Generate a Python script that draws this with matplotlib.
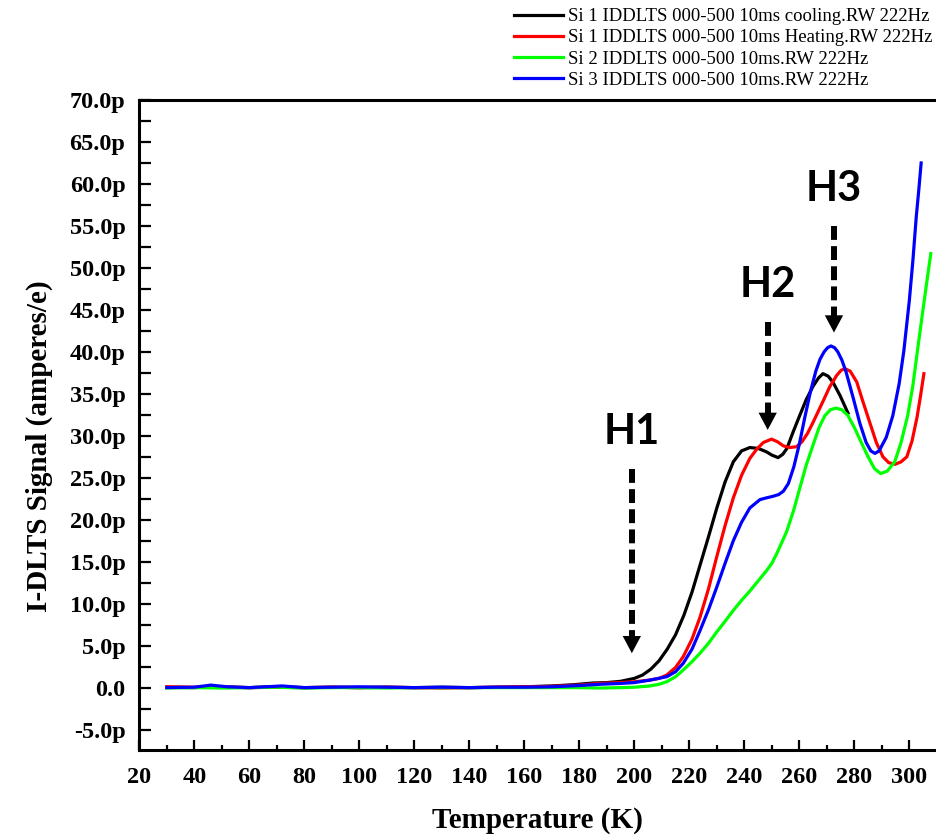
import numpy as np
import matplotlib
matplotlib.use("Agg")
import matplotlib.pyplot as plt
from matplotlib.ticker import MultipleLocator, FuncFormatter

plt.rcParams['font.family'] = ['Liberation Serif', 'DejaVu Serif']
plt.rcParams['lines.scale_dashes'] = False

# Si 1 cooling (black)
t_cool = [30, 40, 46, 52, 60, 70, 80, 90, 100, 110, 120, 130, 140, 150, 160, 170, 178, 185,
          190, 195, 200, 203, 206, 209, 212, 215, 218, 221, 224, 227, 230, 233, 236, 239,
          242, 245, 248, 250, 252.3, 254, 255.5, 257.8, 260, 262.5, 265, 267, 268.6, 270.5,
          272.2, 274.8, 277.7]
s_cool = [0.05, 0.0, 0.15, 0.05, 0.0, 0.1, 0.0, 0.05, 0.0, 0.05, 0.0, 0.05, 0.0, 0.05, 0.1,
          0.2, 0.35, 0.55, 0.6, 0.75, 1.1, 1.5, 2.2, 3.2, 4.6, 6.3, 8.6, 11.4, 14.7, 18.0,
          21.4, 24.5, 26.9, 28.2, 28.6, 28.5, 28.1, 27.7, 27.4, 27.8, 28.5, 30.5, 32.3, 34.3,
          35.9, 36.9, 37.4, 37.1, 36.4, 34.8, 32.7]

# Si 1 heating (red)
t_heat = [30, 40, 50, 60, 70, 80, 90, 100, 110, 120, 130, 140, 150, 160, 170, 180, 187.5,
          195, 200, 205.7, 209, 211.8, 215, 217.8, 221, 223.9, 227, 229.9, 233, 236, 239,
          242, 244.5, 246.9, 249.9, 252, 254.2, 256.5, 259, 261, 263, 265, 268.6, 271, 273.6,
          275.2, 276.6, 278.5, 280.9, 283, 285.7, 288, 290.4, 292.5, 294.8, 297, 299.1, 301,
          302.8, 304, 305.3]
s_heat = [0.1, 0.05, 0.1, 0.0, 0.05, 0.0, 0.05, 0.0, 0.05, 0.0, -0.05, 0.0, 0.05, 0.1, 0.15,
          0.3, 0.5, 0.6, 0.7, 0.9, 1.1, 1.5, 2.4, 3.7, 5.8, 8.4, 11.8, 15.5, 19.3, 22.6, 25.3,
          27.3, 28.4, 29.2, 29.6, 29.3, 28.8, 28.6, 28.7, 29.3, 30.3, 31.6, 34.1, 35.8, 37.2,
          37.8, 38.0, 37.7, 36.4, 34.2, 31.5, 29.2, 27.5, 26.8, 26.6, 26.9, 27.5, 29.4, 32.2,
          34.6, 37.4]

# Si 2 (green)
t_si2 = [30, 40, 50, 60, 70, 80, 90, 100, 110, 120, 130, 140, 150, 160, 170, 180, 187.5,
         195, 200, 205.7, 209, 211.8, 215, 217.8, 221, 223.9, 227, 229.9, 233, 236, 239, 242,
         245, 248, 250, 251.7, 253.5, 255.4, 258, 260.2, 262.5, 265.1, 267.2, 269.3, 271.3,
         273.3, 275.5, 277.7, 280, 282.4, 285, 287.3, 289.6, 292, 294.7, 297, 299.4, 301.3,
         303.1, 305.5, 307.8]
s_si2 = [-0.05, 0.0, -0.05, 0.0, 0.05, -0.05, 0.0, 0.0, -0.05, 0.0, 0.0, 0.0, 0.0, 0.0, 0.0,
         0.0, -0.05, 0.0, 0.05, 0.2, 0.4, 0.7, 1.3, 2.1, 3.1, 4.1, 5.3, 6.6, 7.9, 9.2, 10.4,
         11.5, 12.7, 13.9, 14.8, 15.9, 17.2, 18.6, 21.2, 23.8, 26.5, 29.0, 31.0, 32.4, 33.1,
         33.3, 33.1, 32.4, 31.0, 29.3, 27.5, 26.1, 25.5, 25.8, 26.9, 29.2, 32.4, 36.0, 40.5,
         46.3, 51.7]

# Si 3 (blue)
t_si3 = [30, 40, 46, 52, 60, 66, 72, 80, 90, 100, 110, 120, 130, 140, 150, 160, 170, 180,
         187.5, 195, 200, 205.7, 211.8, 215, 217.8, 221, 223.9, 227, 229.9, 233, 236, 239,
         242, 245.7, 248, 250.5, 252.5, 254.2, 256, 258, 260, 262, 264, 266, 267.5, 269,
         270.3, 271.5, 272.8, 274, 275.5, 277, 279.6, 282, 284.3, 286, 287.5, 289, 291.6, 294,
         296.3, 298, 300, 301.3, 302.5, 303.5, 304.3]
s_si3 = [0.0, 0.05, 0.3, 0.1, 0.0, 0.1, 0.2, 0.0, 0.05, 0.1, 0.05, 0.0, 0.05, 0.0, 0.05, 0.05,
         0.1, 0.25, 0.4, 0.5, 0.6, 0.9, 1.3, 1.9, 2.9, 4.6, 6.8, 9.3, 11.9, 14.8, 17.5, 19.7,
         21.4, 22.4, 22.6, 22.8, 23.0, 23.4, 24.3, 26.3, 29.0, 32.2, 35.2, 37.7, 39.1, 40.0,
         40.5, 40.7, 40.5, 40.0, 39.0, 37.6, 34.5, 31.5, 29.2, 28.2, 27.9, 28.2, 29.8, 32.4,
         36.2, 40.1, 46.1, 50.9, 56.0, 59.5, 62.5]

labels = ["Si 1 IDDLTS 000-500 10ms cooling.RW 222Hz",
          "Si 1 IDDLTS 000-500 10ms Heating.RW 222Hz",
          "Si 2 IDDLTS 000-500 10ms.RW 222Hz",
          "Si 3 IDDLTS 000-500 10ms.RW 222Hz"]
colors = ["#000000", "#ff0000", "#00ff00", "#0000ff"]

# peak markers: name, temperature, arrow top, arrow tip, text height
peak_names = ["H1", "H2", "H3"]
peak_t = [199.1, 248.5, 272.6]
arrow_top = [26.1, 43.5, 55.0]
arrow_tip = [4.1, 30.7, 42.3]
text_y = [30.5, 48.0, 59.4]

fig = plt.figure(figsize=(9.36, 8.36), dpi=100)
ax = fig.add_axes([139.3 / 936, 1 - 750 / 836, 1 - 139.3 / 936, 650 / 836])

series = [(t_cool, s_cool), (t_heat, s_heat), (t_si2, s_si2), (t_si3, s_si3)]
for (t, s), c, lab in zip(series, colors, labels):
    ax.plot(t, s, color=c, lw=2.3, label=lab)

for name, x, top, tip, ty in zip(peak_names, peak_t, arrow_top, arrow_tip, text_y):
    head = 2.0
    ax.plot([x, x], [top, tip + head], color="black", lw=4.3, linestyle=(0, (10, 4.5)),
            solid_capstyle="butt")
    ax.annotate("", xy=(x, tip), xytext=(x, tip + head + 0.3),
                arrowprops=dict(arrowstyle="-|>,head_length=0.62,head_width=0.33",
                                mutation_scale=20, lw=0, color="black",
                                shrinkA=0, shrinkB=0))
    ax.text(x, ty, name, ha="center", va="center", fontsize=30, fontweight="bold",
            family=["Lato", "DejaVu Sans"])

ax.set_xlim(20, 309.7)
ax.set_ylim(-7.43, 70)
ax.xaxis.set_major_locator(MultipleLocator(20))
ax.xaxis.set_minor_locator(MultipleLocator(10))
ax.yaxis.set_major_locator(MultipleLocator(5))
ax.yaxis.set_minor_locator(MultipleLocator(2.5))
ax.yaxis.set_major_formatter(FuncFormatter(lambda v, p: "0.0" if abs(v) < 1e-9 else f"{v:.1f}p"))

ax.tick_params(axis="both", which="both", direction="in", width=1.6)
ax.tick_params(axis="x", which="major", length=7.5, pad=12, labelsize=17.5)
ax.tick_params(axis="x", which="minor", length=3.8)
ax.tick_params(axis="y", which="both", length=8.5, pad=10, labelsize=17.5)
ax.tick_params(right=False, top=False)
for lab in ax.get_xticklabels() + ax.get_yticklabels():
    lab.set_fontweight("bold")

ax.spines["right"].set_visible(False)
for side in ["left", "bottom", "top"]:
    ax.spines[side].set_linewidth(2.2)

ax.set_xlabel("Temperature (K)", fontsize=21, fontweight="bold")
ax.set_ylabel("I-DLTS Signal (amperes/e)", fontsize=21, fontweight="bold")
ax.xaxis.set_label_coords(0.5, -0.088)
ax.yaxis.set_label_coords(-0.108, 0.468)

fig.legend(loc="upper right", bbox_to_anchor=(932 / 936, 1 - 8 / 836), frameon=False,
           fontsize=13.5, borderpad=0, borderaxespad=0, labelspacing=0.22,
           handlelength=2.6, handletextpad=0.25)

fig.savefig("out.png", dpi=100)
